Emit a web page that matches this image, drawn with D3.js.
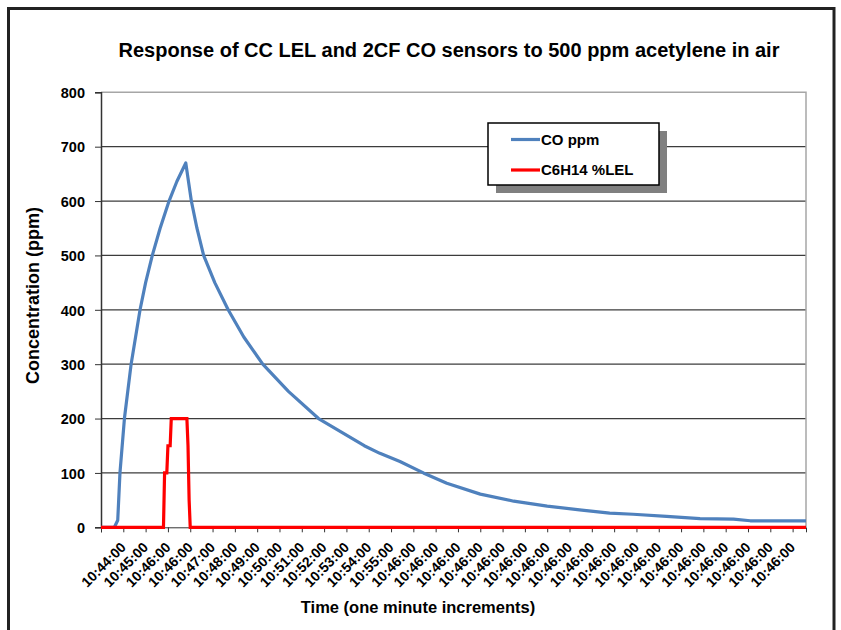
<!DOCTYPE html>
<html>
<head>
<meta charset="utf-8">
<script src="https://cdn.jsdelivr.net/npm/d3@7"></script>
<style>
  body { margin: 0; background: #fff; }
  text { font-family: "Liberation Sans", Arial, sans-serif; font-weight: bold; fill: #000; }
</style>
</head>
<body>
<div id="chart"></div>
<script>
// readings are every 3 s, x is the sample number
const coSample = [0, 12, 15, 17, 21, 27, 35, 40, 46, 53, 61, 68, 76, 78, 81, 86, 92, 102, 114, 128, 145, 168, 195, 236, 250, 268, 289, 310, 340, 370, 400, 429, 456, 477, 507, 537, 567, 582, 632];
const coPpm    = [0, 0, 13, 100, 200, 300, 400, 450, 500, 550, 600, 636, 670, 642, 600, 550, 500, 450, 400, 350, 300, 250, 200, 150, 136, 121, 100, 81, 61, 48, 39, 32, 26, 24, 20, 16, 15, 12, 12];

const lelSample = [0, 56, 57, 59, 60, 62, 63, 77, 78, 79, 80, 632];
const lelValue  = [0, 0, 100, 100, 150, 150, 200, 200, 150, 50, 0, 0];

// labels as they appear under the ticks (first tick has none)
const timeLabels = ["10:44:00", "10:45:00", "10:46:00", "10:46:00", "10:47:00", "10:48:00", "10:49:00",
    "10:50:00", "10:51:00", "10:52:00", "10:53:00", "10:54:00", "10:55:00", "10:46:00", "10:46:00",
    "10:46:00", "10:46:00", "10:46:00", "10:46:00", "10:46:00", "10:46:00", "10:46:00", "10:46:00",
    "10:46:00", "10:46:00", "10:46:00", "10:46:00", "10:46:00", "10:46:00", "10:46:00", "10:46:00"];
const yTicks = [0, 100, 200, 300, 400, 500, 600, 700, 800];

const seriesNames = ["CO ppm", "C6H14 %LEL"];
const seriesColors = ["#4f81bd", "#ff0000"];

const width = 841, height = 630;
const plot = { left: 101, right: 806, top: 92.3, bottom: 527.3 };

let svg = d3.select('#chart')
            .append('svg')
                .attr('width', width)
                .attr('height', height);

// outer frame
svg.append('rect')
    .attr('x', 8.5).attr('y', 8.5)
    .attr('width', 825.5).attr('height', 640)
    .attr('fill', '#fff')
    .attr('stroke', '#222')
    .attr('stroke-width', 3);

let xScale = d3.scaleLinear().domain([0, 632]).range([plot.left, plot.right]);
let yScale = d3.scaleLinear().domain([0, 800]).range([plot.bottom, plot.top]);

// gridlines
svg.append('g').selectAll('line')
    .data(yTicks.filter(d => d > 0 && d < 800))
    .enter()
    .append('line')
        .attr('x1', plot.left).attr('x2', plot.right)
        .attr('y1', d => yScale(d)).attr('y2', d => yScale(d))
        .attr('stroke', '#3c3c3c')
        .attr('stroke-width', 1.2);

// plot border top/right
svg.append('path')
    .attr('d', `M${plot.left},${plot.top}H${plot.right}V${plot.bottom}`)
    .attr('fill', 'none')
    .attr('stroke', '#a6a6a6')
    .attr('stroke-width', 1.5);

// y axis
let yAxis = d3.axisLeft(yScale).tickValues(yTicks).tickSize(6).tickPadding(10);
let yg = svg.append('g').attr('transform', `translate(${plot.left}, 0)`).call(yAxis);
yg.select('.domain').attr('stroke', '#333').attr('stroke-width', 1.5);
yg.selectAll('.tick line').attr('stroke', '#333');
yg.selectAll('.tick text').style('font-size', '14.5px').attr('dy', '0.36em');

// x axis
let xAxis = d3.axisBottom(xScale)
                .tickValues(d3.range(0, 621, 20))
                .tickSize(5)
                .tickFormat((d, i) => i == 0 ? '' : timeLabels[i - 1]);
let xg = svg.append('g').attr('transform', `translate(0, ${plot.bottom})`).call(xAxis);
xg.attr('font-size', 14);
xg.select('.domain').attr('stroke', '#333');
xg.selectAll('.tick line').attr('stroke', '#333');
xg.selectAll('.tick text')
    .attr('x', 0).attr('y', 0).attr('dy', 0)
    .attr('text-anchor', 'end')
    .attr('transform', 'translate(3, 21) rotate(-45)')
    .style('font-size', '14px');

// lines
let line = d3.line()
            .x(d => xScale(d[0]))
            .y(d => yScale(d[1]));

svg.append('path')
    .datum(coSample.map((s, i) => [s, coPpm[i]]))
    .attr('d', line)
    .attr('fill', 'none')
    .attr('stroke', seriesColors[0])
    .attr('stroke-width', 3.2)
    .attr('stroke-linejoin', 'round');

svg.append('path')
    .datum(lelSample.map((s, i) => [s, lelValue[i]]))
    .attr('d', line)
    .attr('fill', 'none')
    .attr('stroke', seriesColors[1])
    .attr('stroke-width', 3.2)
    .attr('stroke-linejoin', 'miter');

// titles
svg.append('text')
    .attr('x', 449).attr('y', 57)
    .attr('text-anchor', 'middle')
    .style('font-size', '20px')
    .text('Response of CC LEL and 2CF CO sensors to 500 ppm acetylene in air');

svg.append('text')
    .attr('x', 418).attr('y', 613)
    .attr('text-anchor', 'middle')
    .style('font-size', '16.5px')
    .text('Time (one minute increments)');

svg.append('text')
    .attr('transform', 'translate(39, 384) rotate(-90)')
    .attr('text-anchor', 'start')
    .style('font-size', '18px')
    .text('Concentration  (ppm)');

// legend with drop shadow
let legend = svg.append('g').attr('transform', 'translate(488, 123)');
legend.append('rect')
    .attr('x', 8).attr('y', 8)
    .attr('width', 171).attr('height', 62)
    .attr('fill', '#808080');
legend.append('rect')
    .attr('width', 171).attr('height', 62)
    .attr('fill', '#fff')
    .attr('stroke', '#000')
    .attr('stroke-width', 1.5);

let items = legend.selectAll('.item')
                .data(seriesNames)
                .enter()
                .append('g')
                    .attr('transform', (d, i) => `translate(0, ${16.5 + i * 30.5})`);
items.append('line')
    .attr('x1', 23).attr('x2', 52)
    .attr('stroke', (d, i) => seriesColors[i])
    .attr('stroke-width', 3.2);
items.append('text')
    .attr('x', 53).attr('y', 5)
    .style('font-size', '15px')
    .text(d => d);
</script>
</body>
</html>
